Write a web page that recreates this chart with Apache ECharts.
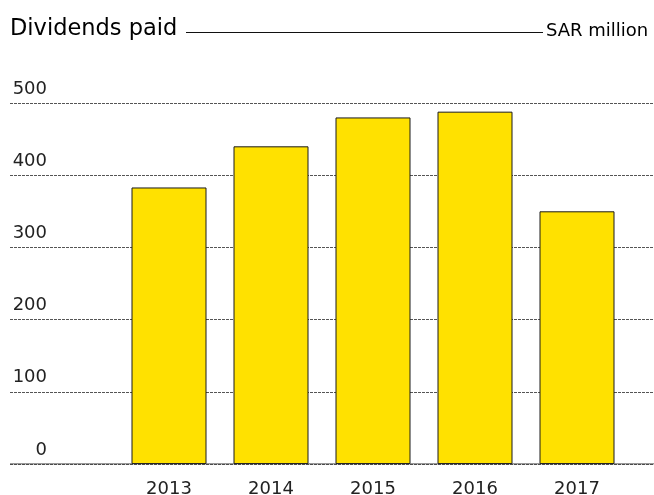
<!DOCTYPE html>
<html>
<head>
<meta charset="utf-8">
<script src="https://cdn.jsdelivr.net/npm/echarts@6/dist/echarts.min.js"></script>
<style>html,body{margin:0;padding:0;background:#fff;}#c{width:654px;height:495px;}</style>
</head>
<body>
<div id="c"></div>
<script>
const years = ['2013', '2014', '2015', '2016', '2017'];
const dividends = [383, 440, 480, 488, 350];
const yTicks = [0, 100, 200, 300, 400, 500];

const FONT = 'DejaVu Sans';
const chart = echarts.init(document.getElementById('c'), null, { renderer: 'canvas' });
chart.setOption({
  animation: false,
  backgroundColor: '#ffffff',
  title: [
    { text: 'Dividends paid', left: 10, top: 18, padding: 0, textStyle: { fontFamily: FONT, fontSize: 22.5, fontWeight: 'normal', color: '#000' } },
    { text: 'SAR million', left: 546, top: 22, padding: 0, textStyle: { fontFamily: FONT, fontSize: 18, fontWeight: 'normal', color: '#000' } }
  ],
  graphic: [
    { type: 'line', shape: { x1: 186, y1: 32.5, x2: 543, y2: 32.5 }, style: { stroke: '#111', lineWidth: 1 } }
  ],
  grid: [
    { left: 10, right: 0, top: 103, bottom: 31, outerBoundsMode: 'none', containLabel: false },
    { left: 118, right: 26, top: 103, bottom: 31, outerBoundsMode: 'none', containLabel: false }
  ],
  xAxis: [
    { type: 'value', gridIndex: 0, show: false, min: 0, max: 1 },
    { type: 'category', gridIndex: 1, data: years,
      axisLine: { show: false }, axisTick: { show: false },
      axisLabel: { fontFamily: FONT, fontSize: 18, color: '#222', margin: 16.5 } }
  ],
  yAxis: [
    { type: 'value', gridIndex: 0, min: 0, max: 500, interval: 100,
      axisLine: { show: true, onZero: false, lineStyle: { color: 'transparent' } },
      axisTick: { show: false },
      splitLine: { show: true, lineStyle: { color: '#555', type: [3, 1], width: 1 } },
      axisLabel: { inside: true, align: 'right', margin: 37, verticalAlign: 'bottom', padding: [0, 0, 5, 0],
        fontFamily: FONT, fontSize: 18, color: '#222',
        formatter: v => yTicks.includes(v) ? String(v) : '' } },
    { type: 'value', gridIndex: 1, min: 0, max: 500, interval: 100, show: false, splitLine: { show: false } }
  ],
  series: [
    { type: 'bar', xAxisIndex: 1, yAxisIndex: 1, data: dividends, barWidth: 75, z: 3,
      itemStyle: { color: '#FFE100', borderColor: '#1a1a1a', borderWidth: 1 } },
    { type: 'line', xAxisIndex: 0, yAxisIndex: 0, data: [[0, 0], [1, 0]], symbol: 'none', silent: true, z: 4,
      lineStyle: { color: '#333', width: 1 } }
  ]
});
</script>
</body>
</html>
